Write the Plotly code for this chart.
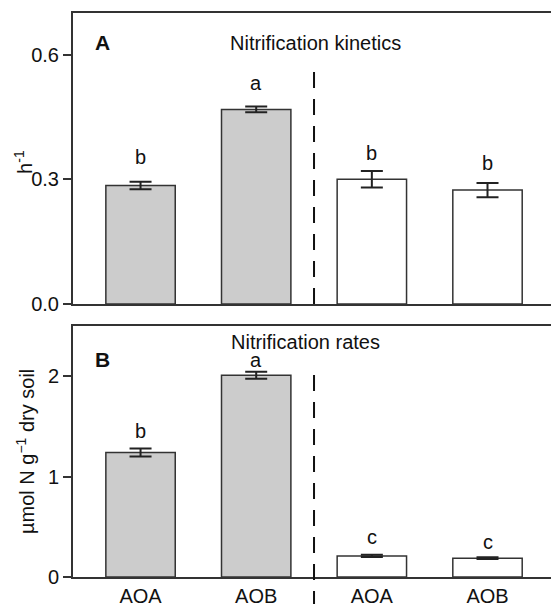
import plotly.graph_objects as go

categories = ["AOA", "AOB", "AOA", "AOB"]
kinetics = [0.285, 0.468, 0.300, 0.274]
kinetics_err = [0.009, 0.007, 0.020, 0.017]
kinetics_letters = ["b", "a", "b", "b"]
rates = [1.24, 2.01, 0.21, 0.188]
rates_err = [0.04, 0.035, 0.012, 0.008]
rates_letters = ["b", "a", "c", "c"]
fills = ["#cccccc", "#cccccc", "#ffffff", "#ffffff"]

xpos = list(range(len(categories)))
FONT = "Liberation Sans, Arial, sans-serif"
LINE = "#333333"

fig = go.Figure()
for vals, errs, ax in [(kinetics, kinetics_err, "y"), (rates, rates_err, "y2")]:
    fig.add_trace(go.Bar(
        x=xpos, y=vals, width=0.6, yaxis=ax, xaxis="x" if ax == "y" else "x2",
        marker=dict(color=fills, line=dict(color=LINE, width=1.5)),
        error_y=dict(type="data", array=errs, visible=True, color="#222222",
                     thickness=2, width=11),
        showlegend=False, hoverinfo="skip",
    ))

ann = []
k_shift = [2, 1, -5, -3]
r_shift = [-5, -11, -5, -8]
for i in xpos:
    ann.append(dict(x=i, y=kinetics[i] + kinetics_err[i], xref="x", yref="y",
                    text=kinetics_letters[i], showarrow=False, yanchor="bottom",
                    yshift=10 + k_shift[i], font=dict(size=20, family=FONT, color="#111")))
    ann.append(dict(x=i, y=rates[i] + rates_err[i], xref="x2", yref="y2",
                    text=rates_letters[i], showarrow=False, yanchor="bottom",
                    yshift=10 + r_shift[i], font=dict(size=20, family=FONT, color="#111")))

def label(x, y, text, size=20, angle=0):
    return dict(x=x, y=y, xref="paper", yref="paper", text=text, showarrow=False,
                xanchor="center", yanchor="middle", textangle=angle,
                font=dict(size=size, family=FONT, color="#111"))

ann += [
    label(0.061, 0.947, "<b>A</b>", 21),
    label(0.507, 0.947, "Nitrification kinetics"),
    label(0.062, 0.385, "<b>B</b>", 21),
    label(0.487, 0.417, "Nitrification rates"),
    label(-0.1025, 0.736, "h<sup>-1</sup>", 20, -90),
    label(-0.1004, 0.2216, "µmol N g<sup>−1</sup> dry soil", 20, -90),
]

shapes = [
    dict(type="line", xref="x", yref="y domain", x0=1.5, x1=1.5, y0=0.0, y1=0.81,
         line=dict(color="#111", width=2, dash="16px,11px")),
    dict(type="line", xref="x2", yref="y2 domain", x0=1.5, x1=1.5, y0=-0.12, y1=0.83,
         line=dict(color="#111", width=2, dash="16px,11px")),
]

axis_common = dict(showline=True, linecolor=LINE, linewidth=2, showgrid=False, zeroline=False)
fig.update_layout(
    width=551, height=604,
    margin=dict(l=73, r=0, t=13, b=27, autoexpand=False),
    paper_bgcolor="white", plot_bgcolor="white",
    font=dict(family=FONT, size=20, color="#111"),
    bargap=0.4,
    xaxis=dict(**axis_common, domain=[0, 1], anchor="y", range=[-0.584, 3.549],
               showticklabels=False, ticks="", mirror=True),
    yaxis=dict(**axis_common, domain=[0.484, 1], anchor="x", range=[0, 0.7],
               tickvals=[0, 0.3, 0.6], ticktext=["0.0", "0.3", "0.6"],
               ticks="outside", ticklen=8, tickwidth=2, tickcolor=LINE),
    xaxis2=dict(**axis_common, domain=[0, 1], anchor="y2", range=[-0.584, 3.549],
                tickvals=xpos, ticktext=categories, ticks="", mirror=True),
    yaxis2=dict(**axis_common, domain=[0, 0.445], anchor="x2", range=[0, 2.5],
                tickvals=[0, 1, 2], ticks="outside", ticklen=8, tickwidth=2, tickcolor=LINE),
    annotations=ann,
    shapes=shapes,
)

fig.write_html("out.html", config={"displayModeBar": False},
               post_script="document.body.style.margin='0';window.dispatchEvent(new Event('resize'));")
